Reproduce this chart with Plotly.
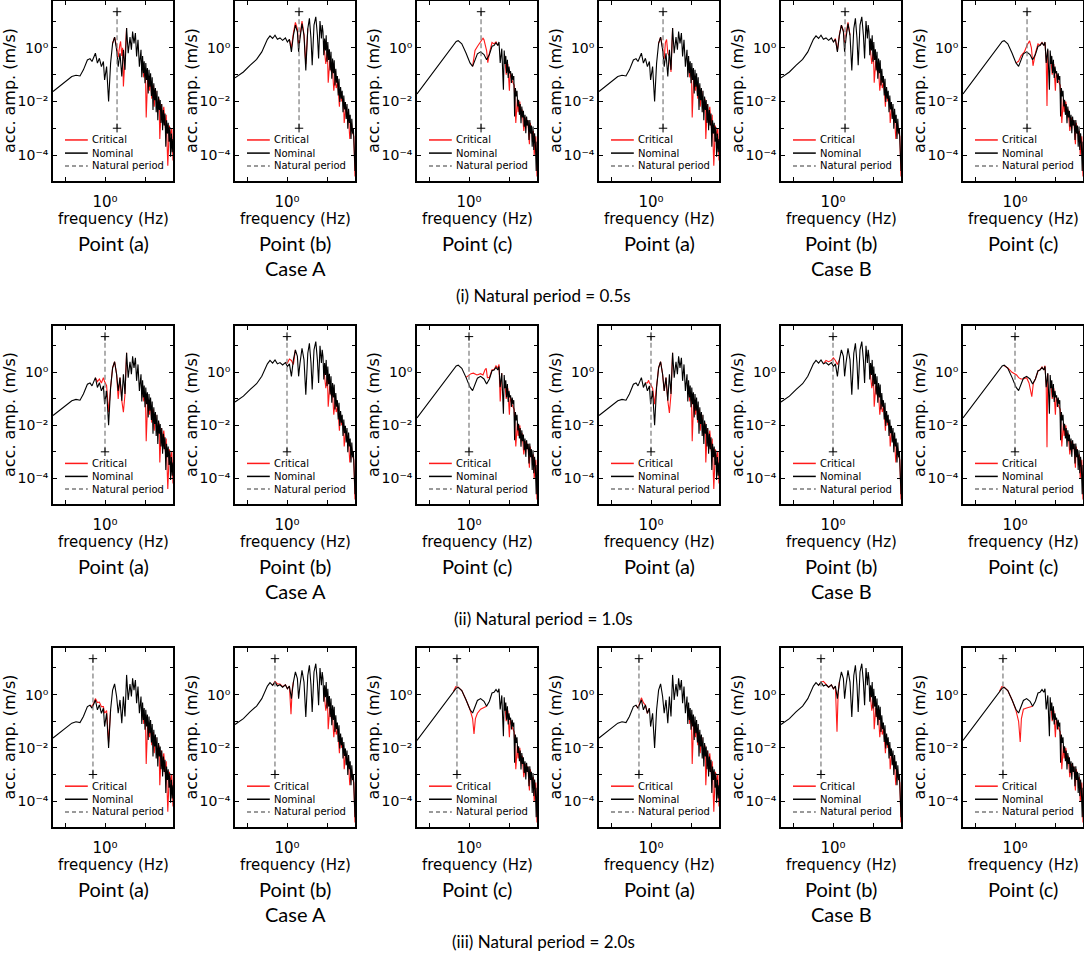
import plotly.graph_objects as go
from plotly.subplots import make_subplots

# ---------------- labels ----------------
natural_periods = [0.5, 1.0, 2.0]          # s, one per row
row_titles = ["(i) Natural period = 0.5s",
              "(ii) Natural period = 1.0s",
              "(iii) Natural period = 2.0s"]
point_labels = ["Point (a)", "Point (b)", "Point (c)"]
case_labels = ["Case A", "Case B"]
legend_labels = ["Critical", "Nominal", "Natural period"]
x_ticktext = ["", "10⁰", ""]
y_ticktext = ["10⁻⁴", "10⁻²", "10⁰"]

# ---------------- nominal spectra (log10 f [Hz], log10 amp [m/s]) ----------------
nom_a_logf = [-1.30, -1.125, -0.96, -0.83, -0.725, -0.625, -0.54, -0.44, -0.375, -0.325,
              -0.24, -0.19, -0.14, -0.09, -0.04, -0.01, 0.04, 0.09, 0.14, 0.19,
              0.24, 0.29, 0.33, 0.375, 0.42, 0.46, 0.50, 0.54, 0.58, 0.625,
              0.66, 0.69, 0.725, 0.76, 0.79, 0.825, 0.86, 0.88,
              0.90, 0.92, 0.94, 0.96, 0.98, 1.00, 1.02, 1.04, 1.06, 1.08,
              1.10, 1.12, 1.14, 1.16, 1.18, 1.20, 1.22, 1.24, 1.26, 1.28,
              1.30, 1.32, 1.34, 1.36, 1.38, 1.40, 1.42, 1.44, 1.46, 1.48,
              1.50, 1.52, 1.54, 1.56, 1.58, 1.60, 1.62, 1.64, 1.66, 1.68, 1.70]
nom_a_logamp = [-1.63, -1.42, -1.20, -1.07, -1.02, -1.05, -0.82, -0.45, -0.40, -0.51,
                -0.20, -0.57, -0.39, -0.70, -0.51, -1.20, -0.70, -2.00, -0.57, 0.17,
                0.40, -0.07, -0.70, -0.20, -1.07, -0.07, -0.82, 0.74, -0.20, 0.40,
                -0.07, 0.61, 0.17, 0.55, -0.32, 0.30, -0.70, -0.20,
                -0.07, -1.10, -0.30, -0.95, -0.50, -1.32, -0.57, -1.20, -0.75, -1.70,
                -0.82, -1.45, -0.95, -1.80, -1.10, -2.32, -1.32, -1.95, -1.50, -2.40,
                -1.60, -2.70, -1.82, -2.32, -1.95, -2.80, -2.10, -3.07, -2.32, -2.90,
                -2.45, -3.69, -2.70, -3.20, -2.80, -3.50, -2.95, -4.06, -3.20, -3.90, -3.40]

nom_b_logf = [-1.30, -1.09, -0.925, -0.76, -0.63, -0.55, -0.49, -0.425, -0.36, -0.30,
              -0.24, -0.175, -0.11, -0.04, 0.01, 0.06, 0.11, 0.16, 0.21, 0.26,
              0.29, 0.325, 0.375, 0.425, 0.47, 0.52, 0.56, 0.60, 0.63, 0.675,
              0.72, 0.76, 0.79, 0.825, 0.86, 0.88,
              0.90, 0.92, 0.94, 0.96, 0.98, 1.00, 1.02, 1.04, 1.06, 1.08,
              1.10, 1.12, 1.14, 1.16, 1.18, 1.20, 1.22, 1.24, 1.26, 1.28,
              1.30, 1.32, 1.34, 1.36, 1.38, 1.40, 1.42, 1.44, 1.46, 1.48,
              1.50, 1.52, 1.54, 1.56, 1.58, 1.60, 1.62, 1.64, 1.66, 1.68, 1.70]
nom_b_logamp = [-1.12, -0.90, -0.65, -0.43, -0.15, 0.16, 0.32, 0.45, 0.35, 0.47,
                0.32, 0.37, 0.28, 0.37, 0.22, 0.32, -0.15, 0.47, 0.85, 0.60,
                -0.15, 0.35, 0.91, 0.47, -0.84, 0.72, 1.10, 0.35, -0.65, 0.85,
                1.16, 0.47, -0.40, 1.00, 0.35, 0.85,
                0.60, -0.27, 0.35, -0.10, 0.47, -0.52, 0.22, -0.45, -0.05, -0.84,
                -0.15, -1.15, -0.40, -0.95, -0.46, -1.40, -0.78, -1.30, -1.05, -1.78,
                -1.15, -2.02, -1.46, -1.90, -1.60, -2.40, -1.78, -2.30, -2.02, -2.65,
                -2.10, -3.02, -2.27, -2.80, -2.50, -3.40, -2.65, -3.20, -3.00, -3.77, -4.60]

nom_c_logf = [-1.30, -1.06, -0.81, -0.56, -0.39, -0.32, -0.27, -0.18, -0.075, 0.025,
              0.09, 0.15, 0.21, 0.29, 0.375, 0.44, 0.51, 0.575, 0.625, 0.675,
              0.72, 0.75, 0.78, 0.82, 0.86, 0.88,
              0.90, 0.92, 0.94, 0.96, 0.98, 1.00, 1.02, 1.04, 1.06, 1.08,
              1.10, 1.12, 1.14, 1.16, 1.18, 1.20, 1.22, 1.24, 1.26, 1.28,
              1.30, 1.32, 1.34, 1.36, 1.38, 1.40, 1.42, 1.44, 1.46, 1.48,
              1.50, 1.52, 1.54, 1.56, 1.58, 1.60, 1.62, 1.64, 1.66, 1.68, 1.70]
nom_c_logamp = [-1.72, -1.25, -0.75, -0.25, 0.09, 0.24, 0.27, 0.15, -0.19, -0.56,
                -0.69, -0.44, -0.22, -0.15, -0.25, -0.44, -0.25, 0.06, 0.09, 0.19,
                0.09, 0.22, -0.56, -0.03, -1.56, -0.10,
                -0.60, -0.30, -0.94, -0.44, -1.12, -0.70, -0.95, -0.87, -1.31, -0.95,
                -1.20, -1.05, -2.56, -1.50, -1.81, -1.60, -2.19, -1.94, -2.50, -2.10,
                -2.81, -2.19, -2.60, -2.35, -2.94, -2.50, -3.19, -2.56, -2.90, -2.70,
                -3.44, -2.69, -3.20, -2.90, -3.69, -2.94, -3.81, -3.19, -3.60, -4.60, -3.50]

# ---------------- critical spectra: where they leave the nominal one ----------------
# row (i) T = 0.5 s
crit_i_A_a = [(0.19, 0.17), (0.24, 0.40), (0.29, 0.05), (0.33, -0.35), (0.37, 0.10), (0.39, 0.24),
              (0.42, -0.30), (0.44, 0.00), (0.46, -1.44), (0.50, -0.50), (0.54, 0.74)]
crit_i_A_b = [(0.06, 0.32), (0.11, 0.00), (0.16, 0.55), (0.21, 0.95), (0.26, 0.70), (0.29, 0.10),
              (0.325, 0.45), (0.375, 1.00), (0.425, 0.50), (0.47, -0.60), (0.52, 0.72)]
crit_i_A_c = [(0.09, -0.69), (0.15, -0.10), (0.21, 0.05), (0.29, 0.25), (0.35, 0.36), (0.375, 0.30),
              (0.41, 0.05), (0.44, -0.10), (0.47, -0.55), (0.51, -0.20), (0.575, 0.20), (0.625, 0.15),
              (0.675, 0.22), (0.72, 0.09)]
crit_i_B_a = [(0.19, 0.17), (0.24, 0.40), (0.29, 0.00), (0.33, -0.40), (0.36, 0.20), (0.39, 0.31),
              (0.42, -0.20), (0.46, -0.30), (0.50, -0.90), (0.54, 0.74)]
crit_i_B_b = [(0.01, 0.22), (0.06, 0.35), (0.11, -0.10), (0.16, 0.50), (0.21, 0.85), (0.26, 0.65),
              (0.29, 0.20), (0.325, 0.50), (0.36, 0.85), (0.375, 0.95), (0.425, 0.47)]
crit_i_B_c = [(0.025, -0.56), (0.09, -0.50), (0.15, -0.30), (0.235, -0.15), (0.30, 0.10), (0.365, 0.26),
              (0.41, 0.00), (0.45, -0.67), (0.51, -0.20), (0.575, 0.15), (0.625, 0.10), (0.675, 0.20),
              (0.72, 0.10), (0.75, 0.20), (0.78, -0.50), (0.80, -2.17), (0.82, -0.10)]
# row (ii) T = 1.0 s
crit_ii_A_a = [(-0.24, -0.20), (-0.19, -0.35), (-0.14, -0.25), (-0.09, -0.40), (-0.04, -0.20),
               (-0.01, -0.35), (0.04, -0.50), (0.09, -1.50), (0.14, -0.57), (0.19, 0.17), (0.24, 0.40),
               (0.29, -0.07), (0.33, -1.00), (0.375, -0.20), (0.42, -1.07), (0.46, -1.50), (0.50, -0.82),
               (0.54, 0.74)]
crit_ii_A_b = [(-0.04, 0.37), (0.01, 0.35), (0.06, 0.50), (0.11, 0.45), (0.16, 0.30), (0.21, 0.85)]
crit_ii_A_c = [(-0.075, -0.19), (0.00, -0.10), (0.05, -0.05), (0.11, -0.03), (0.20, -0.10), (0.29, -0.05),
               (0.35, -0.10), (0.40, 0.10), (0.43, 0.15), (0.46, -0.20), (0.51, -0.20), (0.575, 0.10),
               (0.625, 0.10), (0.675, 0.25), (0.72, 0.15), (0.75, 0.30), (0.78, -1.10), (0.82, -0.03)]
crit_ii_B_a = [(-0.14, -0.39), (-0.09, -0.40), (-0.06, -0.30), (-0.04, -0.40), (-0.01, -0.45),
               (0.04, -0.60), (0.09, -1.20), (0.14, -0.57), (0.19, 0.17), (0.24, 0.40), (0.29, -0.07),
               (0.33, -0.70), (0.375, -0.20), (0.42, -1.07), (0.46, -1.53), (0.50, -0.82), (0.54, 0.74)]
crit_ii_B_b = [(-0.24, 0.32), (-0.175, 0.45), (-0.11, 0.40), (-0.04, 0.45), (0.01, 0.55), (0.06, 0.45),
               (0.11, 0.30), (0.16, 0.47)]
crit_ii_B_c = [(-0.27, 0.25), (-0.18, 0.17), (-0.075, 0.00), (0.04, -0.10), (0.09, -0.20), (0.15, -0.25),
               (0.21, -0.25), (0.29, -0.20), (0.35, -0.40), (0.42, -0.92), (0.46, -0.40), (0.51, -0.25),
               (0.575, 0.05), (0.625, 0.10), (0.675, 0.20), (0.72, 0.10), (0.75, 0.25), (0.78, -0.50),
               (0.80, -2.83), (0.82, -0.05)]
# row (iii) T = 2.0 s
crit_iii_A_a = [(-0.375, -0.40), (-0.325, -0.45), (-0.28, -0.30), (-0.24, -0.15), (-0.19, -0.30),
                (-0.14, -0.28), (-0.09, -0.45), (-0.04, -0.45), (-0.01, -0.70), (0.04, -0.60),
                (0.09, -1.80), (0.14, -0.57)]
crit_iii_A_b = [(-0.36, 0.35), (-0.30, 0.50), (-0.24, 0.40), (-0.175, 0.40), (-0.11, 0.30), (-0.04, 0.37),
                (0.01, 0.22), (0.06, 0.32), (0.10, -0.74), (0.13, 0.20), (0.16, 0.47)]
crit_iii_A_c = [(-0.39, 0.12), (-0.33, 0.30), (-0.27, 0.28), (-0.18, 0.15), (-0.075, -0.19), (0.025, -0.56),
                (0.09, -0.90), (0.125, -1.48), (0.16, -0.90), (0.21, -0.70), (0.29, -0.55), (0.375, -0.50),
                (0.44, -0.44)]
crit_iii_B_a = [(-0.375, -0.40), (-0.325, -0.51), (-0.28, -0.30), (-0.24, -0.12), (-0.19, -0.30),
                (-0.14, -0.40), (-0.09, -0.70), (-0.04, -0.51)]
crit_iii_B_b = [(-0.36, 0.35), (-0.30, 0.47), (-0.24, 0.50), (-0.175, 0.40), (-0.11, 0.28), (-0.04, 0.37),
                (0.01, 0.22), (0.06, 0.30), (0.10, -1.39), (0.13, 0.10), (0.16, 0.47)]
crit_iii_B_c = [(-0.39, 0.12), (-0.33, 0.30), (-0.27, 0.28), (-0.18, 0.15), (-0.075, -0.19), (0.025, -0.60),
                (0.09, -1.00), (0.13, -1.78), (0.16, -0.90), (0.21, -0.55), (0.29, -0.50), (0.375, -0.45),
                (0.44, -0.44)]

# high-frequency part of the critical spectra (red peeking out of the black band)
crit_tail_a = [(0.93, -0.6), (0.97, -1.1), (1.01, -0.8), (1.03, -2.6), (1.07, -1.0), (1.11, -1.6),
               (1.13, -1.1), (1.17, -1.9), (1.21, -1.4), (1.23, -2.2), (1.27, -1.6), (1.31, -2.4),
               (1.35, -1.9), (1.37, -3.4), (1.41, -2.1), (1.43, -2.6), (1.47, -2.2), (1.51, -3.0),
               (1.53, -2.5), (1.57, -4.4), (1.61, -2.9), (1.63, -3.3), (1.67, -3.0), (1.70, -4.2)]
crit_tail_b = [(0.93, 0.0), (0.97, -0.6), (1.01, -0.1), (1.03, -1.3), (1.07, -0.5), (1.11, -0.9),
               (1.13, -0.6), (1.17, -1.6), (1.21, -1.0), (1.23, -1.5), (1.27, -1.3), (1.31, -2.2),
               (1.33, -1.6), (1.37, -2.0), (1.41, -1.9), (1.43, -2.8), (1.47, -2.2), (1.51, -2.5),
               (1.53, -2.4), (1.57, -3.4), (1.61, -2.8), (1.63, -3.1), (1.67, -3.3), (1.70, -4.8)]
crit_tail_c = [(0.89, -0.3), (0.93, -1.0), (0.97, -0.6), (1.01, -1.6), (1.03, -0.9), (1.07, -1.2),
               (1.13, -1.4), (1.17, -2.8), (1.21, -1.9), (1.23, -2.4), (1.27, -2.0), (1.31, -2.6),
               (1.33, -2.3), (1.37, -3.1), (1.41, -2.6), (1.43, -2.9), (1.47, -2.7), (1.51, -3.6),
               (1.53, -2.8), (1.57, -3.2), (1.61, -3.1), (1.63, -4.0), (1.67, -3.3), (1.70, -4.8)]

# ---------------- lookup tables for the loop ----------------
nominal = {"a": (nom_a_logf, nom_a_logamp),
           "b": (nom_b_logf, nom_b_logamp),
           "c": (nom_c_logf, nom_c_logamp)}
tails = {"a": crit_tail_a, "b": crit_tail_b, "c": crit_tail_c}
critical = {
    (0, "A", "a"): crit_i_A_a, (0, "A", "b"): crit_i_A_b, (0, "A", "c"): crit_i_A_c,
    (0, "B", "a"): crit_i_B_a, (0, "B", "b"): crit_i_B_b, (0, "B", "c"): crit_i_B_c,
    (1, "A", "a"): crit_ii_A_a, (1, "A", "b"): crit_ii_A_b, (1, "A", "c"): crit_ii_A_c,
    (1, "B", "a"): crit_ii_B_a, (1, "B", "b"): crit_ii_B_b, (1, "B", "c"): crit_ii_B_c,
    (2, "A", "a"): crit_iii_A_a, (2, "A", "b"): crit_iii_A_b, (2, "A", "c"): crit_iii_A_c,
    (2, "B", "a"): crit_iii_B_a, (2, "B", "b"): crit_iii_B_b, (2, "B", "c"): crit_iii_B_c,
}

# ---------------- layout in pixels ----------------
W, H = 1084, 953
col_left = [53, 235, 417, 599, 781, 963]
panel_w = 120
row_top = [1, 326, 648]
row_bot = [181, 504, 827]
np_lo, np_hi = 1e-3, 10 ** 1.35   # extent of the natural period marker line

RED = "#ff1a1a"
GREY = "#7a7a7a"
X_TICK_FONT = dict(family="DejaVu Sans", size=15, color="black")
Y_TICK_FONT = dict(family="DejaVu Sans", size=14, color="black")
LABEL_FONT = dict(family="Lato", size=20, color="black")
TITLE_FONT = dict(family="Lato", size=17, color="black")


def py(px):
    return 1 - px / H


def unlog(v):
    return [None if a is None else 10 ** a for a in v]


fig = make_subplots(rows=3, cols=6)

for r in range(3):
    fn = 1.0 / natural_periods[r]
    for ci, case in enumerate(["A", "B"]):
        for pi, p in enumerate(["a", "b", "c"]):
            col = ci * 3 + pi + 1
            win = critical[(r, case, p)]
            tail = tails[p]
            cx = [f for f, _ in win] + [None] + [f for f, _ in tail]
            cy = [v for _, v in win] + [None] + [v for _, v in tail]
            fig.add_trace(go.Scatter(x=unlog(cx), y=unlog(cy), mode="lines",
                                     line=dict(color=RED, width=1.1), showlegend=False),
                          row=r + 1, col=col)
            nf, nv = nominal[p]
            fig.add_trace(go.Scatter(x=unlog(nf), y=unlog(nv), mode="lines",
                                     line=dict(color="black", width=1.1), showlegend=False),
                          row=r + 1, col=col)
            fig.add_trace(go.Scatter(x=[fn, fn], y=[np_lo, np_hi], mode="lines+markers",
                                     line=dict(color=GREY, width=1.2, dash="5px,3px"),
                                     marker=dict(symbol="cross-thin", size=6,
                                                 line=dict(color="black", width=1)),
                                     showlegend=False),
                          row=r + 1, col=col)
            x0 = col_left[col - 1] / W
            fig.update_xaxes(domain=[x0, x0 + panel_w / W], row=r + 1, col=col)
            fig.update_yaxes(domain=[py(row_bot[r]), py(row_top[r])], row=r + 1, col=col)

fig.update_xaxes(type="log", range=[-1.3, 1.7], showgrid=False, zeroline=False,
                 showline=True, linecolor="black", linewidth=1.6, mirror="allticks",
                 ticks="inside", ticklen=4, tickcolor="black", tickwidth=1,
                 tickvals=[0.1, 1, 10], ticktext=x_ticktext,
                 tickfont=X_TICK_FONT, ticklabelstandoff=6)
fig.update_yaxes(type="log", range=[-4.97, 1.75], showgrid=False, zeroline=False,
                 showline=True, linecolor="black", linewidth=1.6, mirror="allticks",
                 ticks="inside", ticklen=4, tickcolor="black", tickwidth=1,
                 tickvals=[1e-4, 1e-2, 1], ticktext=y_ticktext,
                 tickfont=Y_TICK_FONT,
                 minor=dict(tickvals=[1e-5, 1e-3, 1e-1, 10], ticks="inside", ticklen=3,
                            tickcolor="black"))

annotations = []
shapes = []
legend_y = [0.228, 0.155, 0.084]
legend_style = [dict(color=RED, width=1.5), dict(color="black", width=1.5),
                dict(color=GREY, width=1.5, dash="4px,3px")]
for r in range(3):
    for col in range(1, 7):
        n = r * 6 + col
        sfx = "" if n == 1 else str(n)
        xd, yd = f"x{sfx} domain", f"y{sfx} domain"
        # legend drawn inside each panel
        for k in range(3):
            shapes.append(dict(type="line", xref=xd, yref=yd, x0=0.10, x1=0.29,
                               y0=legend_y[k], y1=legend_y[k], line=legend_style[k]))
            annotations.append(dict(text=legend_labels[k], xref=xd, yref=yd, x=0.305,
                                    y=legend_y[k], xanchor="left", yanchor="middle",
                                    showarrow=False,
                                    font=dict(family="DejaVu Sans", size=10, color="black")))
        annotations.append(dict(text="acc. amp. (m/s)", xref=xd, yref=yd, x=0, y=0.5,
                                xshift=-44, textangle=-90, showarrow=False,
                                xanchor="center", yanchor="middle",
                                font=dict(family="DejaVu Sans", size=16, color="black")))
        annotations.append(dict(text="frequency (Hz)", xref=xd, yref="paper", x=0.5,
                                y=py(row_bot[r] + 38), showarrow=False,
                                xanchor="center", yanchor="middle",
                                font=dict(family="DejaVu Sans", size=15, color="black")))
        annotations.append(dict(text=point_labels[(col - 1) % 3], xref=xd, yref="paper",
                                x=0.5, y=py(row_bot[r] + 62), showarrow=False,
                                xanchor="center", yanchor="middle", font=LABEL_FONT))
        if col in (2, 5):
            annotations.append(dict(text=case_labels[(col - 1) // 3], xref=xd, yref="paper",
                                    x=0.5, y=py(row_bot[r] + 87), showarrow=False,
                                    xanchor="center", yanchor="middle", font=LABEL_FONT))
    annotations.append(dict(text=row_titles[r], xref="paper", yref="paper", x=543 / W,
                            y=py(row_bot[r] + 114), showarrow=False,
                            xanchor="center", yanchor="middle", font=TITLE_FONT))

fig.update_layout(width=W, height=H, margin=dict(l=0, r=0, t=0, b=0),
                  paper_bgcolor="white", plot_bgcolor="white",
                  showlegend=False, annotations=annotations, shapes=shapes)

# the page's default body margin would shift the figure by 8 px
fig.write_html("out.html", config={"displayModeBar": False},
               post_script="document.body.style.margin = '0';")
